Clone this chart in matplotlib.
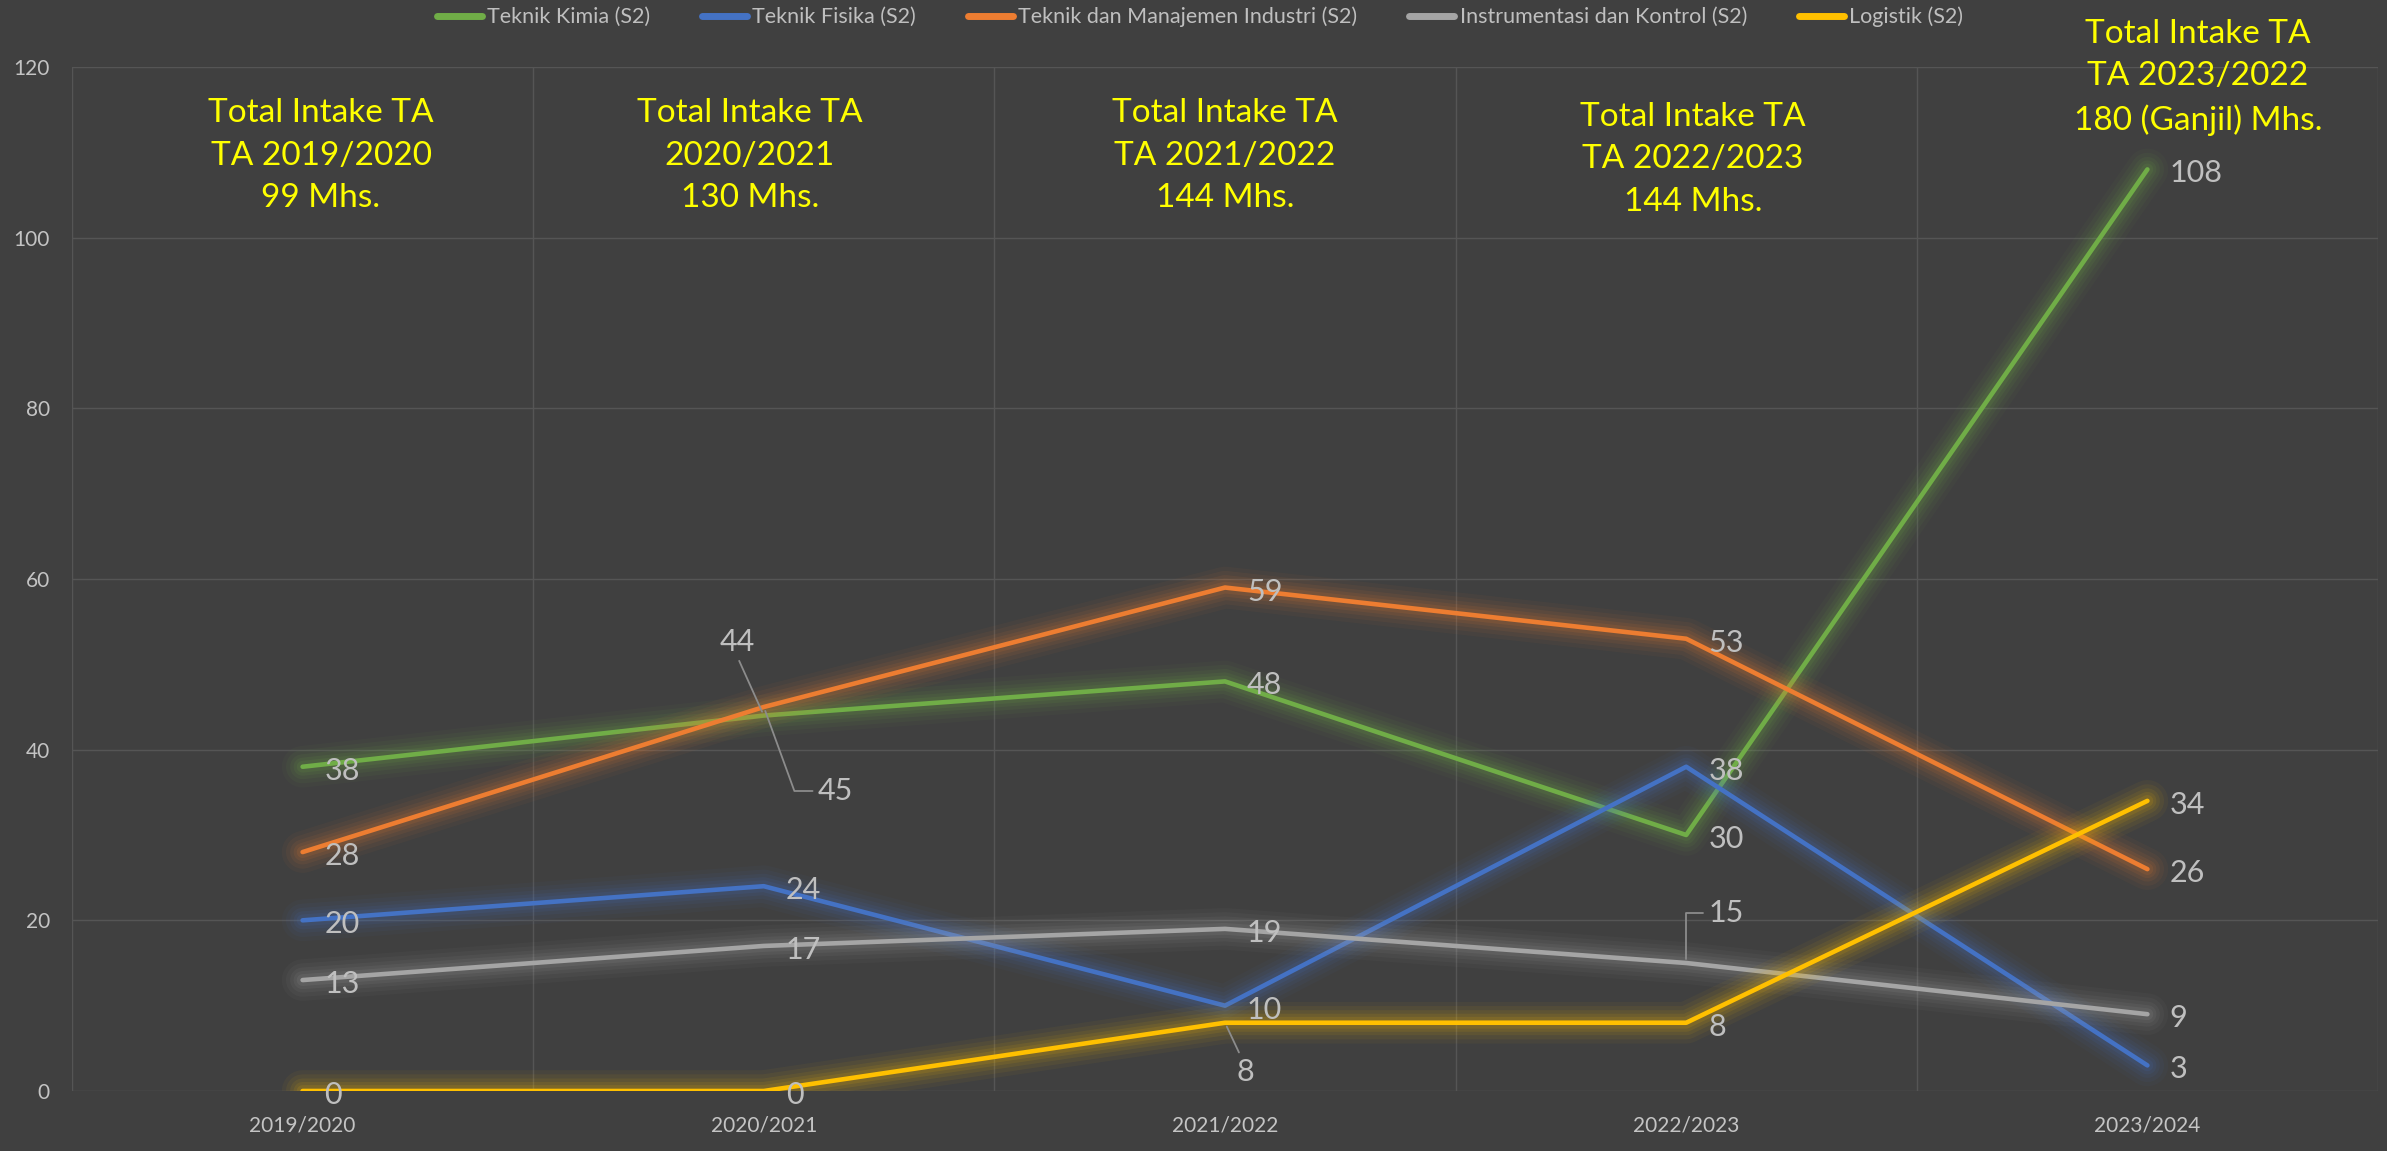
import matplotlib
matplotlib.use("Agg")
import matplotlib.pyplot as plt
import numpy as np

plt.rcParams['font.family'] = ['Lato', 'DejaVu Sans']

# ---------------- data ----------------
categories = ["2019/2020", "2020/2021", "2021/2022", "2022/2023", "2023/2024"]
series_names = ["Teknik Kimia (S2)", "Teknik Fisika (S2)", "Teknik dan Manajemen Industri (S2)",
                "Instrumentasi dan Kontrol (S2)", "Logistik (S2)"]
teknik_kimia = [38, 44, 48, 30, 108]
teknik_fisika = [20, 24, 10, 38, 3]
tmi = [28, 45, 59, 53, 26]
instrumentasi = [13, 17, 19, 15, 9]
logistik = [0, 0, 8, 8, 34]
series_values = [teknik_kimia, teknik_fisika, tmi, instrumentasi, logistik]
colors = ["#70AD47", "#4472C4", "#ED7D31", "#A5A5A5", "#FFC000"]

intake_texts = [
    "Total Intake TA\nTA 2019/2020\n99 Mhs.",
    "Total Intake TA\n2020/2021\n130 Mhs.",
    "Total Intake TA\nTA 2021/2022\n144 Mhs.",
    "Total Intake TA\nTA 2022/2023\n144 Mhs.",
    "Total Intake TA\nTA 2023/2022\n180 (Ganjil) Mhs.",
]
# placement of the text boxes (category units, value units)
intake_pos = [(0.04, 109.6), (0.97, 109.6), (2.0, 109.6), (3.015, 109.2), (4.11, 118.8)]

# special label offsets (pixels) : (series index, category index) -> (dx, dy, leader style)
special = {
    (0, 1): (-27, 74, "straight"),
    (2, 1): (72, -84, "angle,angleA=0,angleB=110,rad=0"),
    (4, 2): (20, -49, "straight"),
    (3, 3): (40, 50, "angle,angleA=0,angleB=90,rad=0"),
}

# ---------------- figure ----------------
W, H, DPI = 2387, 1151, 100
fig = plt.figure(figsize=(W / DPI, H / DPI), dpi=DPI, facecolor="#404040")
ax = fig.add_axes([72 / W, 1 - 1091 / H, (2378 - 72) / W, (1091 - 67) / H])
ax.set_facecolor("#404040")

x = np.arange(len(categories))
ax.set_xlim(-0.5, len(categories) - 0.5)
ax.set_ylim(0, 120)
ax.set_yticks(np.arange(0, 121, 20))
ax.set_xticks(x)
ax.set_xticklabels(categories)
ax.set_xticks(np.arange(-0.5, len(categories), 1.0), minor=True)
ax.grid(True, axis="y", which="major", color="#555555", lw=1.0)
ax.grid(True, axis="x", which="minor", color="#555555", lw=1.0)
ax.grid(False, axis="x", which="major")
ax.tick_params(axis="both", which="both", length=0, colors="#C4C4C4", labelsize=15)
ax.tick_params(axis="y", pad=16)
ax.tick_params(axis="x", pad=18)
for s in ax.spines.values():
    s.set_visible(False)
ax.set_axisbelow(True)

handles = []
for vals, col, name in zip(series_values, colors, series_names):
    for w, a in [(30, 0.045), (24, 0.06), (18, 0.075), (13, 0.09), (8.5, 0.11)]:
        ax.plot(x, vals, color=col, lw=w, alpha=a, solid_capstyle="round",
                solid_joinstyle="round")
    h, = ax.plot(x, vals, color=col, lw=3.3, solid_capstyle="round",
                 solid_joinstyle="round", label=name)
    handles.append(h)

# data labels
for si, vals in enumerate(series_values):
    for ci, v in enumerate(vals):
        if (si, ci) in special:
            dx, dy, style = special[(si, ci)]
            if style == "straight":
                ap = dict(arrowstyle="-", color="#8C8C8C", lw=1.3, shrinkA=2, shrinkB=3)
            else:
                ap = dict(arrowstyle="-", color="#8C8C8C", lw=1.3, shrinkA=2, shrinkB=3,
                          connectionstyle=style)
            if (si, ci) == (2, 1) or (si, ci) == (3, 3):
                ap["relpos"] = (0.0, 0.5)
            elif (si, ci) == (0, 1):
                ap["relpos"] = (0.5, 0.0)
            else:
                ap["relpos"] = (0.3, 1.0)
            ax.annotate(str(v), xy=(ci, v), xytext=(dx, dy), textcoords="offset pixels",
                        ha="center", va="center", fontsize=22, color="#BFBFBF",
                        arrowprops=ap, zorder=6)
        else:
            ax.annotate(str(v), xy=(ci, v), xytext=(22, -4), textcoords="offset pixels",
                        ha="left", va="center", fontsize=22, color="#BFBFBF", zorder=6)

# intake boxes
for txt, (px, py) in zip(intake_texts, intake_pos):
    ax.text(px, py, txt, ha="center", va="center", fontsize=24, color="#FFFF00",
            linespacing=1.52, clip_on=False, zorder=7)

leg = fig.legend(handles=handles, loc="center", bbox_to_anchor=(1200 / W, 1 - 17 / H),
                 ncol=5, frameon=False, fontsize=15.5, labelcolor="#BFBFBF",
                 handlelength=2.1, handletextpad=0.25, columnspacing=2.4)
for lh in leg.get_lines():
    lh.set_linewidth(5)

fig.savefig("out.png", dpi=DPI, facecolor=fig.get_facecolor())
